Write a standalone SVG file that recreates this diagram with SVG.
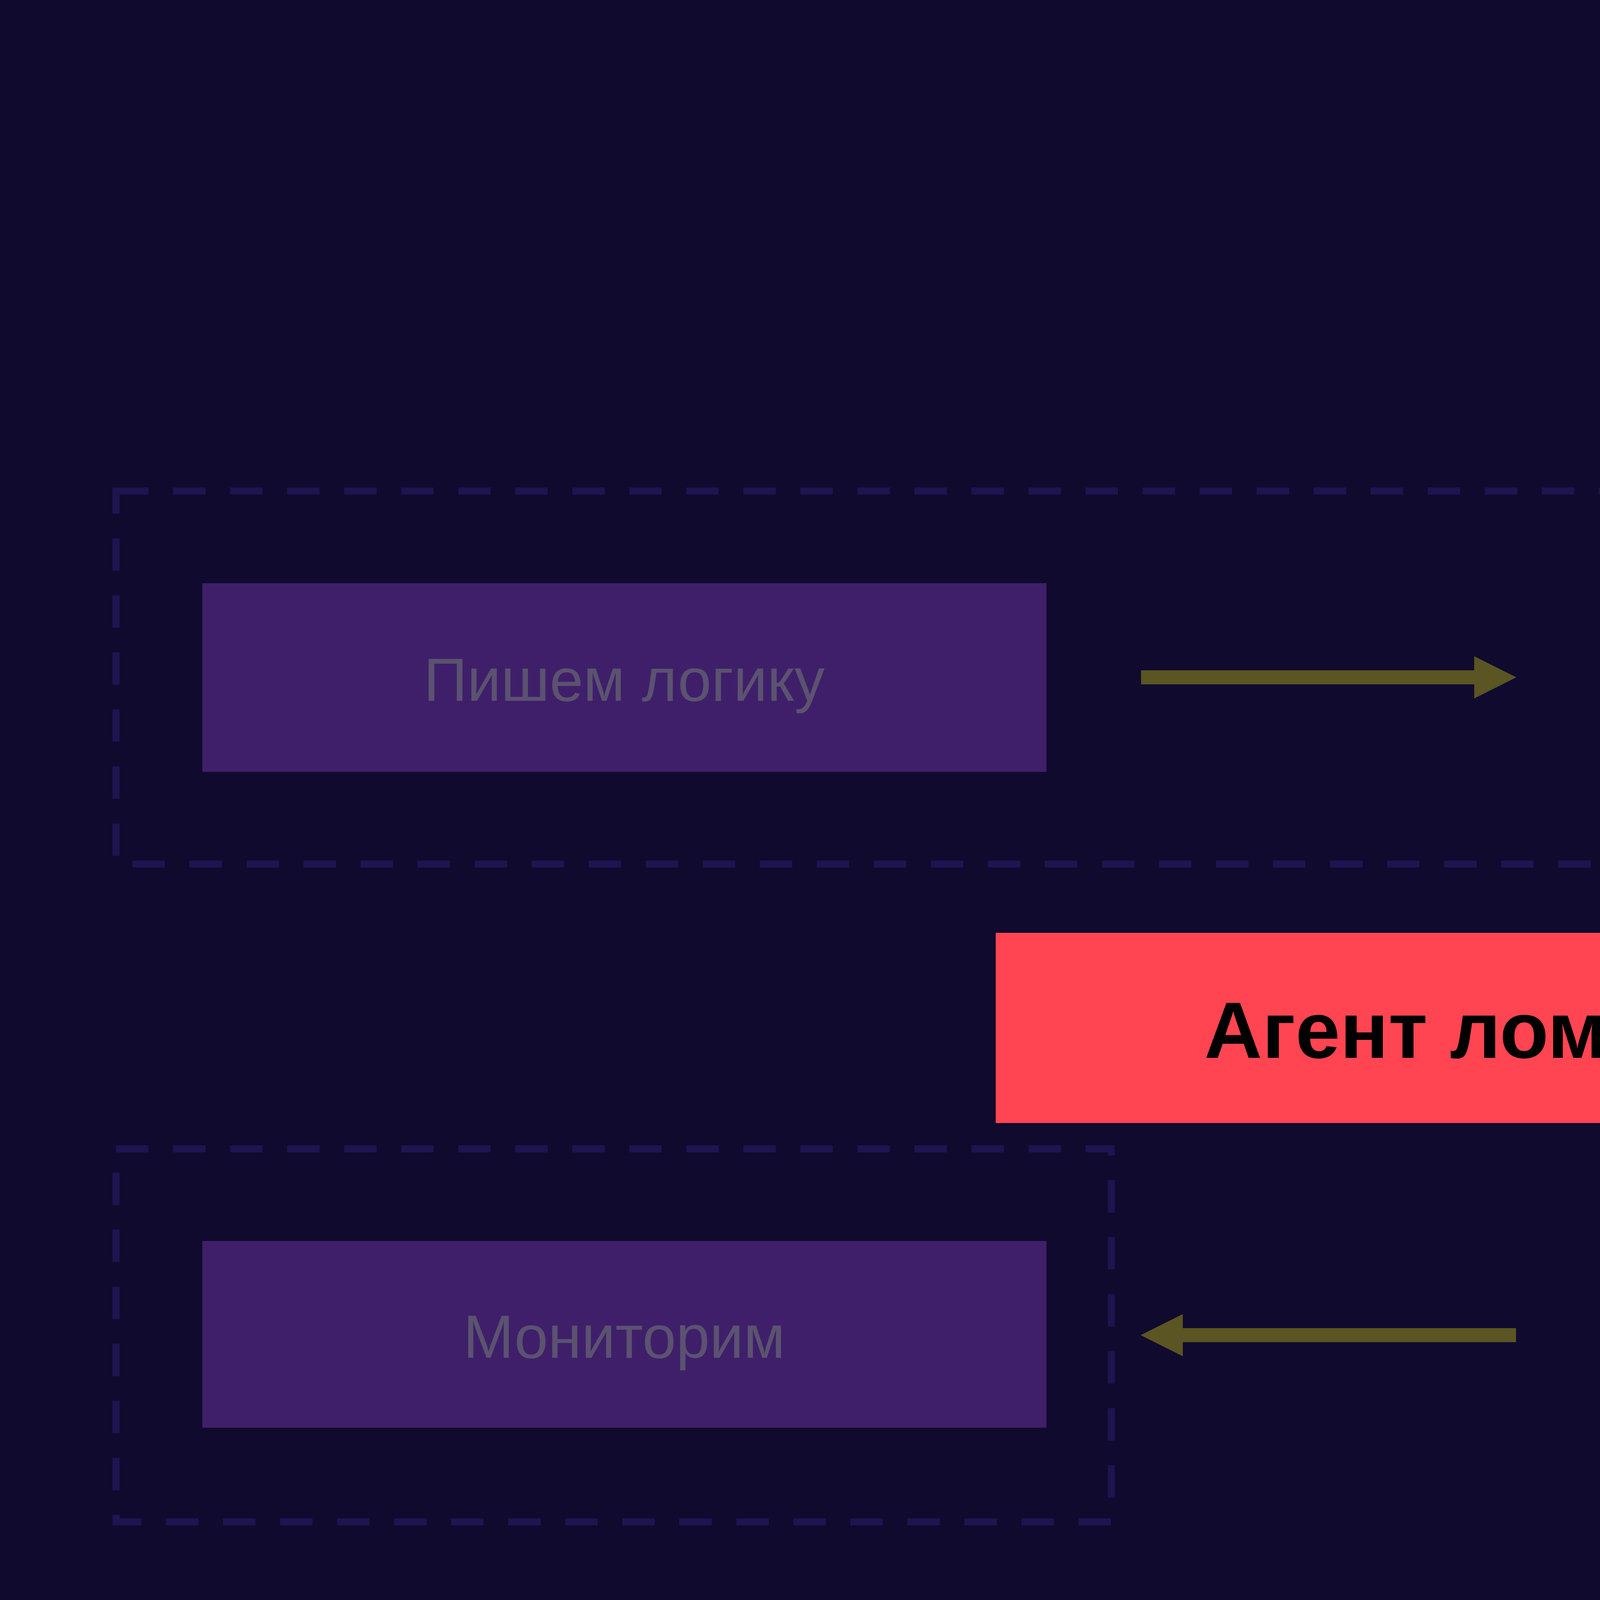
<svg xmlns="http://www.w3.org/2000/svg" width="7882" height="4259" viewBox="0 0 7882 4259">
<defs>
<style>
.box{fill:#3f1f6a}
.bt{font-family:"Liberation Sans",Arial,sans-serif;font-size:155px;fill:#5b5270;text-anchor:middle;dominant-baseline:central}
.grp{fill:none;stroke:#1e1450;stroke-width:18;stroke-dasharray:83 63}
.con{stroke:#5a5522;stroke-width:36;fill:none}
.red{fill:#ff4551}
.rt{font-family:"Liberation Sans",Arial,sans-serif;font-weight:bold;font-size:205px;fill:#000;text-anchor:middle;dominant-baseline:central}
</style>
<marker id="ah" markerWidth="3" markerHeight="3" refX="0.5" refY="1.5" orient="auto" markerUnits="strokeWidth"><path d="M0,0 L3,1.5 L0,3 Z" fill="#5a5522"/></marker>
</defs>
<rect width="7882" height="4259" fill="#100a2e"/>
<g id="groups">
<rect class="grp" x="297" y="1257" width="6228" height="955"/>
<rect class="grp" x="297" y="2941" width="2548" height="955"/>
</g>
<g id="connectors">
<line class="con" x1="2921" y1="1734" x2="3792" y2="1734" marker-end="url(#ah)"/>
<line class="con" x1="5203" y1="2101" x2="5203" y2="2964" marker-end="url(#ah)"/>
<line class="con" x1="3881" y1="3418" x2="3010" y2="3418" marker-end="url(#ah)"/>
</g>
<g id="n1"><rect class="box" x="518" y="1493" width="2161" height="483"/><text class="bt" x="1598" y="1740">Пишем логику</text></g>
<g id="n2"><rect class="box" x="4122" y="1493" width="2162" height="483"/><text class="bt" x="5203" y="1740">Пишем тесты</text></g>
<g id="n3"><rect class="box" x="518" y="3177" width="2161" height="478"/><text class="bt" x="1598" y="3422">Мониторим</text></g>
<g id="n4"><rect class="box" x="4122" y="3177" width="2162" height="478"/><text class="bt" x="5203" y="3422">Выполняем тесты</text></g>
<g id="l1"><rect class="red" x="2549" y="2388" width="3398" height="487"/><text class="rt" x="4248" y="2636">Агент ломается «тихо»</text></g>
<g id="l2" transform="translate(5957,809) rotate(5.86)"><rect class="red" x="-1476" y="-231" width="2952" height="462"/><text class="rt" x="0" y="5">Недетерминированно</text></g>
</svg>
